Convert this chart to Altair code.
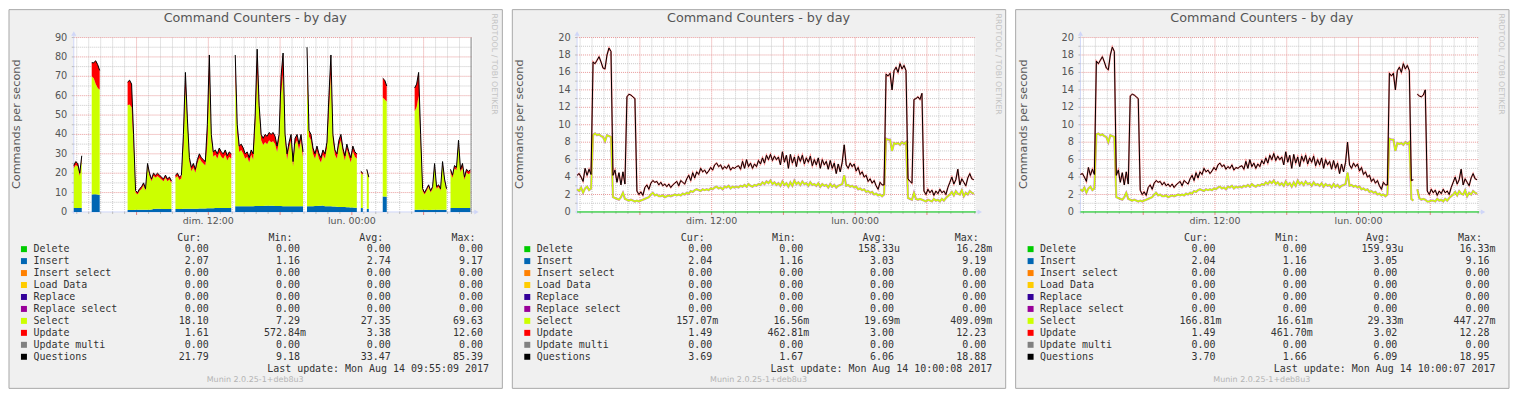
import altair as alt
import pandas as pd

N = None

# ---------------- time axis (RRD samples every 10 minutes; minutes since Sunday 00:00) -------------
T_START = 45
T_END = 2045
times = [T_START + 10 * k for k in range(200)]

x_major_ticks = [360, 720, 1080, 1440, 1800]
x_minor_ticks = [60 * h for h in range(1, 35) if h % 6 != 0]
x_label_times = [720, 1440]
x_label_text = ["dim. 12:00", "lun. 00:00"]

# ---------------- panel 1 (stacked areas, gaps = no data) ----------------
p1_questions = [
    24, 26, 25, 20, 29,
    N, N, N, N,
    77, 77, 78, 76, 73,
    N, N, N, N, N, N, N, N, N, N, N, N, N,
    67, 68, 66, 40, 11, 10, 12, 13, 15, 12, 25, 20, 17, 20, 19, 20, 19, 18, 17, 19, 17, 18, 16,
    N,
    19, 20, 18, 19, 40, 72, 48, 28, 23, 25, 22, 27, 30, 28, 27, 26, 45, 81, 40, 31, 32, 30, 33, 31, 30, 32, 29, 31, 30,
    N,
    81, 45, 34, 35, 33, 30, 31, 28, 32, 30, 50, 84, 55, 40, 38, 40, 39, 41, 40, 41, 39, 34, 40, 70, 82, 40, 30, 36, 40, 26,
    38, 40, 35, 40, 31,
    N,
    85, 42, 40, 33, 30, 34, 30, 28, 32, 30, 36, 60, 81, 40, 32, 30, 37, 40, 33, 29, 35, 31, 28, 34, 31, 30,
    N,
    21, 20,
    N,
    22, 18,
    N, N, N, N, N, N,
    69, 68, 65,
    N, N, N, N, N, N, N, N, N, N, N, N, N,
    64, 66, 72, 40, 12, 10, 12, 14, 11, 13, 25, 13, 14, 12, 26, 17, 12,
    N,
    22, 19, 24, 23, 37, 22, 25, 18, 22, 21, 21.8,
]
p1_insert = [
    2.1, 2.0, 2.0, 2.1, 2.0,
    N, N, N, N,
    9.0, 9.2, 9.1, 9.0, 8.8,
    N, N, N, N, N, N, N, N, N, N, N, N, N,
    1.0, 1.0, 1.0, 1.0, 1.1, 1.1, 1.1, 1.1, 1.1, 1.2, 1.2, 1.2, 1.3, 1.5, 1.6, 1.6, 1.6, 1.5, 1.5, 1.5, 1.5, 1.5, 1.5,
    N,
    1.5, 1.5, 1.5, 1.5, 1.6, 1.6, 1.6, 1.6, 1.7, 1.7, 1.7, 1.7, 1.8, 1.8, 1.8, 1.8, 1.9, 1.9, 1.9, 1.9,
    2.0, 2.0, 2.0, 2.0, 2.0, 2.0, 2.0, 2.0, 2.0,
    N,
    3.0, 3.0, 2.9, 2.9, 2.9, 3.0, 3.0, 3.0, 3.0, 3.0, 3.1, 3.1, 3.1, 3.1, 3.1, 3.2, 3.2, 3.2, 3.2, 3.2,
    3.1, 3.1, 3.1, 3.1, 3.0, 3.0, 3.0, 3.0, 3.0, 3.0, 3.0, 3.0, 3.0, 3.0, 3.0,
    N,
    3.0, 3.0, 3.0, 3.0, 3.1, 3.1, 3.2, 3.2, 3.3, 3.0, 3.0, 2.9, 2.9, 2.8, 2.8, 2.7, 2.6, 2.6, 2.5, 2.5,
    2.4, 2.4, 2.3, 2.3, 2.2, 2.2,
    N,
    2.0, 2.0,
    N,
    1.6, 1.6,
    N, N, N, N, N, N,
    8.0, 8.0, 7.8,
    N, N, N, N, N, N, N, N, N, N, N, N, N,
    1.1, 1.1, 1.1, 1.1, 1.1, 1.1, 1.1, 1.0, 1.0, 1.1, 1.1, 1.1, 1.1, 1.1, 1.1, 1.1, 1.1,
    N,
    2.0, 2.0, 2.1, 2.1, 2.1, 2.0, 2.0, 2.0, 2.1, 2.1, 2.07,
]
p1_select = [
    20.4, 22.2, 21.5, 16.4, 25.0,
    N, N, N, N,
    61.0, 59.8, 56.9, 55.0, 54.2,
    N, N, N, N, N, N, N, N, N, N, N, N, N,
    54.0, 54.4, 53.0, 33.0, 8.9, 7.9, 9.9, 10.7, 12.7, 9.8, 22.3, 17.3, 14.5, 17.2, 16.1, 17.0, 16.1, 15.2, 14.3, 16.2,
    14.3, 15.2, 13.3,
    N,
    16, 17, 15, 15.9, 32.4, 62.4, 43.9, 24.4, 19.3, 21.3, 18.5, 23.3, 26, 24.2, 23.2, 22.2, 33.1, 67.1, 35.6, 26.6,
    27.5, 25.5, 28.5, 26.5, 25.5, 27.5, 24.5, 26.5, 25.5,
    N,
    67, 38, 28.1, 29.1, 27.1, 24.5, 25.5, 22.5, 26.5, 24, 39.9, 68.9, 47.9, 33.9, 31.4, 32.8, 31.8, 33.8, 32.8, 33.3,
    31.9, 27.9, 33.9, 57.9, 68, 34, 24, 30, 34, 20.5, 32, 34, 29, 34, 25,
    N,
    69.4, 36, 34, 27, 24.4, 28.4, 24.3, 22.3, 26.2, 24.5, 30, 49.1, 68.1, 34.2, 26.7, 24.8, 31.4, 34.4, 28, 24,
    30.1, 26.1, 23.2, 29.2, 26.3, 25.3,
    N,
    18.2, 17.2,
    N,
    19.6, 15.6,
    N, N, N, N, N, N,
    51, 50, 49.2,
    N, N, N, N, N, N, N, N, N, N, N, N, N,
    50.9, 52.9, 58.9, 33.9, 9.9, 7.9, 9.9, 12, 9, 10.9, 22.4, 10.9, 11.9, 9.9, 23.4, 14.7, 9.9,
    N,
    18.5, 15.5, 20.4, 19.4, 32.9, 18.5, 21, 14.5, 18.4, 17.4, 18.1,
]
p1_update = [
    1.5, 1.8, 1.5, 1.5, 2.0,
    N, N, N, N,
    7, 8, 12, 12, 10,
    N, N, N, N, N, N, N, N, N, N, N, N, N,
    12, 12.6, 12, 6, 1, 1, 1, 1.2, 1.2, 1, 1.5, 1.5, 1.2, 1.3, 1.3, 1.4, 1.3, 1.3, 1.2, 1.3, 1.2, 1.3, 1.2,
    N,
    1.5, 1.5, 1.5, 1.6, 6, 8, 2.5, 2, 2, 2, 1.8, 2, 2.2, 2, 2, 2, 10, 12, 2.5, 2.5,
    2.5, 2.5, 2.5, 2.5, 2.5, 2.5, 2.5, 2.5, 2.5,
    N,
    11, 4, 3, 3, 3, 2.5, 2.5, 2.5, 2.5, 3, 7, 12, 4, 3, 3.5, 4, 4, 4, 4, 4.5,
    4, 3, 3, 9, 11, 3, 3, 3, 3, 2.5, 3, 3, 3, 3, 3,
    N,
    12.6, 3, 3, 3, 2.5, 2.5, 2.5, 2.5, 2.5, 2.5, 3, 8, 10, 3, 2.5, 2.5, 3, 3, 2.5, 2.5,
    2.5, 2.5, 2.5, 2.5, 2.5, 2.5,
    N,
    0.8, 0.8,
    N,
    0.8, 0.8,
    N, N, N, N, N, N,
    10, 10, 8,
    N, N, N, N, N, N, N, N, N, N, N, N, N,
    12, 12, 12, 5, 1, 1, 1, 1, 1, 1, 1.5, 1, 1, 1, 1.5, 1.2, 1,
    N,
    1.5, 1.5, 1.5, 1.5, 2, 1.5, 2, 1.5, 1.5, 1.5, 1.6,
]
p1_marker_time = [2038]

# ---------------- panel 2 (stacked lines) ----------------
p2_questions = [
    4.2, 4.4, 4.0, 3.5, 5.0, 4.2, 4.9, 4.3,
    17.2, 17.0, 17.4, 17.8, 17.2, 16.5, 16.4, 18.0, 18.8, 18.4,
    4.2, 4.8, 3.4, 4.5, 3.1, 4.6, 3.2,
    13.2, 13.5, 13.4, 13.2, 13.0,
    2.4, 2.0, 2.3, 1.9, 2.8, 3.1, 2.6, 3.3, 3.6, 3.4, 3.5, 3.1, 3.4, 3.0, 3.2, 2.9, 3.2, 2.8, 3.1, 3.3,
    3.5, 3.0, 3.6, 3.4, 3.2, 3.8, 4.2, 3.6, 4.5, 3.9, 4.6, 4.3, 5.0, 4.6, 4.8, 4.4,
    4.7, 5.1, 4.8, 5.4, 5.6, 5.2, 5.4, 4.9, 5.2, 5.0, 5.4, 4.8, 5.1, 5.0, 5.2,
    5.3, 4.9, 5.8, 5.0, 6.0, 5.2, 5.6, 5.0, 5.5, 5.2, 5.9, 5.5, 6.2, 5.6, 6.5, 6.0, 6.6, 5.9, 6.4, 6.0,
    6.3, 5.4, 6.9, 5.7, 6.5, 5.0, 6.6, 5.6, 6.3, 5.2, 6.4, 5.8, 6.5, 5.5, 6.2, 5.7, 6.4, 5.3, 6.0, 5.4,
    6.2, 5.0, 6.0, 5.4, 5.8, 4.9, 5.9, 5.0, 5.6, 4.4, 5.5, 4.6, 5.7, 7.7, 5.4,
    5.0, 5.6, 5.2, 5.5, 4.7, 5.1, 4.3, 4.6, 4.0, 4.2, 3.5, 3.8, 3.3, 3.6, 3.0, 2.6, 3.4, 3.1, 3.1,
    15.8, 15.6, 15.9, 14.0, 16.2, 16.6, 16.0, 17.0, 16.4, 16.8, 16.2,
    3.8, 3.5, 3.3,
    12.9, 13.0, 13.2, 12.9, 13.6,
    2.4, 2.0, 2.6, 2.2, 2.5, 1.9, 2.4, 2.1, 2.6, 2.2, 2.4, 2.0, 2.8,
    3.4, 4.0, 3.2, 3.7, 4.9, 3.1, 3.8, 3.4, 3.0, 3.9, 4.4, 3.8, 3.7,
]
p2_insert = [
    2.6, 2.4, 2.8, 2.2, 2.7, 2.9, 2.5, 2.7,
    8.8, 9.0, 8.8, 8.9, 8.7, 8.6, 8.1, 8.8, 8.7, 8.6,
    1.7, 1.6, 1.5, 1.4, 1.7, 2.2, 1.5,
    1.4, 1.3, 1.4, 1.3, 1.2,
    1.3, 1.2, 1.3, 1.4, 1.5, 1.6, 1.7, 2.0, 2.2, 1.9, 2.0, 1.8, 1.8, 1.9, 1.7, 1.8, 1.9, 1.8, 1.9, 2.0,
    1.9, 2.0, 1.9, 2.1, 2.0, 2.2, 2.1, 2.4, 2.3, 2.5, 2.6, 2.5, 2.4, 2.6, 2.5, 2.6,
    2.5, 2.7, 2.6, 2.8, 2.9, 2.7, 2.8, 2.6, 2.9, 2.8, 3.0, 2.7, 2.9, 2.8, 2.9,
    2.8, 3.0, 2.9, 3.1, 2.9, 3.2, 3.0, 2.9, 3.1, 3.0, 3.2, 3.1, 3.4, 3.2, 3.5, 3.3, 3.6, 3.2, 3.4, 3.1,
    3.3, 3.0, 3.5, 3.1, 3.3, 2.9, 3.4, 3.0, 3.6, 3.2, 3.4, 3.1, 3.5, 3.2, 3.3, 3.0, 3.4, 3.1, 3.2, 3.0,
    3.3, 2.9, 3.2, 3.0, 3.1, 2.8, 3.2, 2.9, 3.1, 2.8, 3.0, 3.1, 3.2, 4.2, 3.0,
    3.1, 2.9, 3.0, 2.8, 2.9, 2.6, 2.7, 2.5, 2.6, 2.3, 2.4, 2.2, 2.3, 2.0, 2.1, 1.9, 2.0, 1.8, 2.0,
    8.4, 8.3, 8.3, 7.0, 7.9, 7.8, 7.9, 7.7, 8.0, 7.8, 8.0,
    1.6, 1.5, 1.4,
    2.2, 1.5, 1.4, 1.5, 1.4,
    1.3, 1.2, 1.4, 1.3, 1.2, 1.5, 1.3, 1.4, 1.2, 1.5, 1.3, 1.6, 1.8,
    2.0, 2.3, 1.9, 2.4, 2.1, 2.0, 2.5, 1.8, 2.2, 2.0, 2.4, 2.2, 2.1,
]

# ---------------- panel 3 (stacked lines, one missing sample) ----------------
p3_questions = [
    4.3, 4.4, 4.0, 3.5, 5.1, 4.2, 4.9, 4.3,
    17.3, 17.0, 17.4, 17.8, 17.2, 16.5, 16.3, 18.0, 18.9, 18.4,
    4.2, 4.8, 3.4, 4.5, 3.1, 4.6, 3.2,
    13.3, 13.5, 13.4, 13.2, 13.0,
    2.5, 2.0, 2.3, 1.9, 2.8, 3.1, 2.6, 3.3, 3.6, 3.4, 3.5, 3.1, 3.4, 3.0, 3.2, 2.9, 3.2, 2.8, 3.1, 3.3,
    3.5, 3.0, 3.6, 3.4, 3.2, 3.8, 4.2, 3.6, 4.5, 3.9, 4.6, 4.3, 5.0, 4.6, 4.8, 4.4,
    4.7, 5.1, 4.8, 5.4, 5.6, 5.2, 5.4, 4.9, 5.2, 5.0, 5.4, 4.8, 5.1, 5.0, 5.2,
    5.3, 4.9, 5.8, 5.0, 6.0, 5.2, 5.6, 5.0, 5.5, 5.2, 5.9, 5.5, 6.2, 5.6, 6.5, 6.0, 6.7, 5.9, 6.4, 6.0,
    6.3, 5.4, 6.9, 5.7, 6.5, 5.0, 6.6, 5.6, 6.3, 5.2, 6.4, 5.8, 6.5, 5.5, 6.2, 5.7, 6.4, 5.3, 6.0, 5.4,
    6.2, 5.0, 6.0, 5.4, 5.8, 4.9, 5.9, 5.0, 5.6, 4.4, 5.5, 4.6, 5.7, 8.0, 5.4,
    5.0, 5.6, 5.2, 5.5, 4.7, 5.1, 4.3, 4.6, 4.0, 4.2, 3.5, 3.8, 3.3, 3.6, 3.0, 2.6, 3.4, 3.1, 3.1,
    15.9, 15.6, 15.9, 14.0, 16.2, 16.6, 16.0, 17.0, 16.4, 16.8, 16.2,
    3.6, 3.7, N,
    13.5, 13.3, 13.2, 13.4, 14.0,
    2.4, 2.0, 2.6, 2.2, 2.5, 1.9, 2.4, 2.1, 2.6, 2.2, 2.4, 2.0, 2.8,
    3.4, 4.0, 3.2, 3.7, 4.9, 3.1, 3.8, 3.4, 3.0, 3.9, 4.4, 3.8, 3.7,
]
p3_insert = [
    2.6, 2.4, 2.8, 2.2, 2.7, 2.9, 2.5, 2.7,
    8.9, 9.0, 8.8, 8.9, 8.7, 8.6, 8.0, 8.8, 8.7, 8.6,
    1.7, 1.6, 1.5, 1.4, 1.7, 2.2, 1.5,
    1.4, 1.3, 1.4, 1.3, 1.2,
    1.3, 1.2, 1.3, 1.4, 1.5, 1.6, 1.7, 2.0, 2.2, 1.9, 2.0, 1.8, 1.8, 1.9, 1.7, 1.8, 1.9, 1.8, 1.9, 2.0,
    1.9, 2.0, 1.9, 2.1, 2.0, 2.2, 2.1, 2.4, 2.3, 2.5, 2.6, 2.5, 2.4, 2.6, 2.5, 2.6,
    2.5, 2.7, 2.6, 2.8, 2.9, 2.7, 2.8, 2.6, 2.9, 2.8, 3.0, 2.7, 2.9, 2.8, 2.9,
    2.8, 3.0, 2.9, 3.1, 2.9, 3.2, 3.0, 2.9, 3.1, 3.0, 3.2, 3.1, 3.4, 3.2, 3.5, 3.3, 3.6, 3.2, 3.4, 3.1,
    3.3, 3.0, 3.5, 3.1, 3.3, 2.9, 3.4, 3.0, 3.6, 3.2, 3.4, 3.1, 3.5, 3.2, 3.3, 3.0, 3.4, 3.1, 3.2, 3.0,
    3.3, 2.9, 3.2, 3.0, 3.1, 2.8, 3.2, 2.9, 3.1, 2.8, 3.0, 3.1, 3.2, 4.5, 3.0,
    3.1, 2.9, 3.0, 2.8, 2.9, 2.6, 2.7, 2.5, 2.6, 2.3, 2.4, 2.2, 2.3, 2.0, 2.1, 1.9, 2.0, 1.8, 2.0,
    8.4, 8.3, 8.3, 7.0, 7.9, 7.8, 7.9, 7.7, 8.0, 7.8, 8.0,
    1.5, 1.3, N,
    2.6, 1.6, 1.4, 1.5, 1.4,
    1.2, 1.2, 1.3, 1.3, 1.2, 1.5, 1.3, 1.4, 1.2, 1.5, 1.3, 1.6, 1.8,
    2.0, 2.3, 1.9, 2.4, 2.1, 2.0, 2.5, 1.8, 2.2, 2.0, 2.4, 2.2, 2.1,
]

for _name, _arr in [("p1_questions", p1_questions), ("p1_insert", p1_insert), ("p1_select", p1_select),
                    ("p1_update", p1_update), ("p2_questions", p2_questions), ("p2_insert", p2_insert),
                    ("p3_questions", p3_questions), ("p3_insert", p3_insert)]:
    assert len(_arr) == 200, (_name, len(_arr))

# ---------------- legend table ----------------
legend_names = ["Delete", "Insert", "Insert select", "Load Data", "Replace", "Replace select",
                "Select", "Update", "Update multi", "Questions"]
legend_colors = ["#00CC00", "#0066B3", "#FF8000", "#FFCC00", "#330099", "#990099",
                 "#CCFF00", "#FF0000", "#808080", "#000000"]
legend_headers = ["Cur:", "Min:", "Avg:", "Max:"]
Z = ["0.00", "0.00", "0.00", "0.00"]
p1_stats = [Z, ["2.07", "1.16", "2.74", "9.17"], Z, Z, Z, Z,
            ["18.10", "7.29", "27.35", "69.63"], ["1.61", "572.84m", "3.38", "12.60"], Z,
            ["21.79", "9.18", "33.47", "85.39"]]
p2_stats = [["0.00", "0.00", "158.33u", "16.28m"], ["2.04", "1.16", "3.03", "9.19"], Z, Z, Z, Z,
            ["157.07m", "16.56m", "19.69m", "409.09m"], ["1.49", "462.81m", "3.00", "12.23"], Z,
            ["3.69", "1.67", "6.06", "18.88"]]
p3_stats = [["0.00", "0.00", "159.93u", "16.33m"], ["2.04", "1.16", "3.05", "9.16"], Z, Z, Z, Z,
            ["166.81m", "16.61m", "29.33m", "447.27m"], ["1.49", "461.70m", "3.02", "12.28"], Z,
            ["3.70", "1.66", "6.09", "18.95"]]
p1_last = "Mon Aug 14 09:55:09 2017"
p2_last = "Mon Aug 14 10:00:08 2017"
p3_last = "Mon Aug 14 10:00:07 2017"

TITLE = "Command Counters - by day"
Y_TITLE = "Commands per second"
WATERMARK = "RRDTOOL / TOBI OETIKER"
FOOTER = "Munin 2.0.25-1+deb8u3"

# ---------------- styling / layout (pixels relative to the plot area) ----------------
PLOT_W, PLOT_H = 400, 175
BOX_L, BOX_R, BOX_T, BOX_B = -65, 430, -28, 352
BACK = "#F0F0F0"
FRAME = "#A8A8A8"
AXIS = "#CFD6F8"
GRID_MINOR = "#C8C8C8"
GRID_MAJOR = "#E89A9A"
FONT = "DejaVu Sans"
MONO = "DejaVu Sans Mono"
TXT = "#555555"
LEG_TXT = "#333333"
COL_RIGHT = [135.5, 227.0, 318.0, 410.5]
ROW_Y0, ROW_DY, HEADER_Y = 212.3, 12.0, 201.3
CHAR_W = 6.02

one = pd.DataFrame({"d": [0]})


def xs(field):
    return alt.X(field, type="quantitative",
                 scale=alt.Scale(domain=[T_START, T_END], nice=False, zero=False), axis=None)


def ys(field, ymax):
    return alt.Y(field, type="quantitative",
                 scale=alt.Scale(domain=[0, ymax], nice=False, zero=False), axis=None)


def seg_ids(values):
    ids, seg, gap = [], 0, True
    for v in values:
        if v is None:
            gap = True
            ids.append(None)
        else:
            if gap:
                seg += 1
            gap = False
            ids.append(seg)
    return ids


def line_df(values):
    segs = seg_ids(values)
    return pd.DataFrame([{"t": t, "v": v, "seg": s} for t, v, s in zip(times, values, segs) if v is not None])


def panel1_layers(ymax):
    segs = seg_ids(p1_questions)
    rows = []
    for k, t in enumerate(times):
        if p1_questions[k] is None:
            continue
        i, s, u = p1_insert[k], p1_select[k], p1_update[k]
        rows.append({"t": t, "g": f"i{segs[k]}", "col": "#0066B3", "lo": 0.0, "hi": i})
        rows.append({"t": t, "g": f"s{segs[k]}", "col": "#CCFF00", "lo": i, "hi": i + s})
        rows.append({"t": t, "g": f"u{segs[k]}", "col": "#FF0000", "lo": i + s, "hi": i + s + u})
    area_df = pd.DataFrame(rows)
    areas = alt.Chart(area_df).mark_area(opacity=1, strokeWidth=0).encode(
        x=xs("t"), y=ys("hi", ymax), y2=alt.Y2("lo"),
        color=alt.Color("col:N", scale=None), detail="g:N")
    q = alt.Chart(line_df(p1_questions)).mark_line(color="#000000", strokeWidth=1).encode(
        x=xs("t"), y=ys("v", ymax), detail="seg:N")
    marker = alt.Chart(pd.DataFrame({"t": p1_marker_time})).mark_rule(color="#8C8C8C", strokeWidth=1).encode(
        x=xs("t"), y=alt.value(0), y2=alt.value(PLOT_H))
    return [areas, q, marker]


def lines_layers(insert_vals, question_vals):
    def f(ymax):
        delete_line = alt.Chart(one).mark_rule(color="#00CC00", strokeWidth=1).encode(
            y=alt.value(PLOT_H), x=alt.value(0), x2=alt.value(PLOT_W))
        ins = line_df(insert_vals)
        qs = line_df(question_vals)
        purple = alt.Chart(ins).mark_line(color="#990099", strokeWidth=2.2, opacity=0.5).encode(
            x=xs("t"), y=ys("v", ymax), detail="seg:N")
        yellow = alt.Chart(ins).mark_line(color="#CCFF00", strokeWidth=1.4).encode(
            x=xs("t"), y=ys("v", ymax), detail="seg:N")
        red = alt.Chart(qs).mark_line(color="#FF0000", strokeWidth=1.7, opacity=0.45).encode(
            x=xs("t"), y=ys("v", ymax), detail="seg:N")
        black = alt.Chart(qs).mark_line(color="#000000", strokeWidth=1.0).encode(
            x=xs("t"), y=ys("v", ymax), detail="seg:N")
        return [delete_line, purple, yellow, red, black]
    return f


def legend_layers(stats, last_update):
    names = pd.DataFrame({"px": -40.5, "py": [ROW_Y0 + i * ROW_DY for i in range(len(legend_names))],
                          "text": legend_names})
    squares = pd.DataFrame({"x1": -53.0, "x2": -47.0,
                            "y1": [ROW_Y0 - 3.0 + i * ROW_DY for i in range(len(legend_names))],
                            "y2": [ROW_Y0 + 3.0 + i * ROW_DY for i in range(len(legend_names))],
                            "col": legend_colors})
    vals = []
    for i, row in enumerate(stats):
        for j, s in enumerate(row):
            shift = CHAR_W if s[-1].isalpha() else 0.0
            vals.append({"px": COL_RIGHT[j] + shift, "py": ROW_Y0 + i * ROW_DY, "text": s})
    for j, h in enumerate(legend_headers):
        vals.append({"px": COL_RIGHT[j] - 7.5, "py": HEADER_Y, "text": h})
    vals.append({"px": 416.5, "py": 333.0, "text": "Last update: " + last_update})
    vals = pd.DataFrame(vals)
    px = alt.X("px:Q", scale=None, axis=None)
    py = alt.Y("py:Q", scale=None, axis=None)
    return [
        alt.Chart(squares).mark_rect().encode(
            x=alt.X("x1:Q", scale=None, axis=None), x2="x2:Q",
            y=alt.Y("y1:Q", scale=None, axis=None), y2="y2:Q",
            color=alt.Color("col:N", scale=None)),
        alt.Chart(names).mark_text(font=MONO, fontSize=10, color=LEG_TXT, align="left", baseline="middle").encode(
            x=px, y=py, text="text:N"),
        alt.Chart(vals).mark_text(font=MONO, fontSize=10, color=LEG_TXT, align="right", baseline="middle").encode(
            x=px, y=py, text="text:N"),
    ]


def build_panel(ymax, y_labels, y_major, y_minor, data_layers, stats, last_update):
    L = []
    L.append(alt.Chart(one).mark_rect(fill=BACK, stroke=FRAME, strokeWidth=1).encode(
        x=alt.value(BOX_L), x2=alt.value(BOX_R), y=alt.value(BOX_T), y2=alt.value(BOX_B)))
    L.append(alt.Chart(one).mark_rect(fill="#FFFFFF").encode(
        x=alt.value(0), x2=alt.value(PLOT_W), y=alt.value(0), y2=alt.value(PLOT_H)))
    L.append(alt.Chart(pd.DataFrame({"t": x_minor_ticks})).mark_rule(color=GRID_MINOR, strokeDash=[1, 1]).encode(
        x=xs("t"), y=alt.value(0), y2=alt.value(PLOT_H)))
    L.append(alt.Chart(pd.DataFrame({"v": y_minor})).mark_rule(color=GRID_MINOR, strokeDash=[1, 1]).encode(
        y=ys("v", ymax), x=alt.value(0), x2=alt.value(PLOT_W)))
    L.append(alt.Chart(pd.DataFrame({"t": x_major_ticks})).mark_rule(color=GRID_MAJOR, strokeDash=[1, 1]).encode(
        x=xs("t"), y=alt.value(0), y2=alt.value(PLOT_H)))
    L.append(alt.Chart(pd.DataFrame({"v": y_major})).mark_rule(color=GRID_MAJOR, strokeDash=[1, 1]).encode(
        y=ys("v", ymax), x=alt.value(0), x2=alt.value(PLOT_W)))
    # axes, ticks and arrows
    L.append(alt.Chart(one).mark_rule(color=AXIS).encode(x=alt.value(0), y=alt.value(-2), y2=alt.value(PLOT_H + 2)))
    L.append(alt.Chart(one).mark_rule(color=AXIS).encode(y=alt.value(PLOT_H), x=alt.value(-2), x2=alt.value(PLOT_W + 2)))
    L.append(alt.Chart(pd.DataFrame({"t": x_minor_ticks})).mark_rule(color="#BBBBBB").encode(
        x=xs("t"), y=alt.value(PLOT_H), y2=alt.value(PLOT_H + 2)))
    L.append(alt.Chart(pd.DataFrame({"t": x_major_ticks})).mark_rule(color="#E08080").encode(
        x=xs("t"), y=alt.value(PLOT_H), y2=alt.value(PLOT_H + 3)))
    L.append(alt.Chart(pd.DataFrame({"v": y_minor + y_major})).mark_rule(color="#BBBBBB").encode(
        y=ys("v", ymax), x=alt.value(-2), x2=alt.value(0)))
    L.append(alt.Chart(one).mark_point(shape="triangle-up", filled=True, size=26, color=AXIS, opacity=1).encode(
        x=alt.value(0), y=alt.value(-4)))
    L.append(alt.Chart(one).mark_point(shape="triangle-right", filled=True, size=26, color=AXIS, opacity=1).encode(
        x=alt.value(PLOT_W + 4), y=alt.value(PLOT_H)))
    # data
    L += data_layers(ymax)
    # axis labels
    L.append(alt.Chart(pd.DataFrame({"v": y_labels, "lab": [str(v) for v in y_labels]})).mark_text(
        font=FONT, fontSize=9.8, color=TXT, align="right", baseline="middle").encode(
        y=ys("v", ymax), x=alt.value(-6.5), text="lab:N"))
    L.append(alt.Chart(pd.DataFrame({"t": x_label_times, "lab": x_label_text})).mark_text(
        font=FONT, fontSize=9.5, color=TXT, align="center", baseline="middle").encode(
        x=xs("t"), y=alt.value(184.5), text="lab:N"))
    # titles / watermark
    L.append(alt.Chart(one).mark_text(text=TITLE, font=FONT, fontSize=12.8, color=TXT,
                                      align="center", baseline="middle").encode(
        x=alt.value(182), y=alt.value(-20)))
    L.append(alt.Chart(one).mark_text(text=Y_TITLE, font=FONT, fontSize=11.3, color=TXT, angle=270,
                                      align="center", baseline="middle").encode(
        x=alt.value(-57), y=alt.value(87)))
    L.append(alt.Chart(one).mark_text(text=WATERMARK, font=FONT, fontSize=7.9, color="#C4C4C4", angle=90,
                                      align="left", baseline="middle").encode(
        x=alt.value(422), y=alt.value(-24)))
    L.append(alt.Chart(one).mark_text(text=FOOTER, font=FONT, fontSize=8, color="#B4B4B4",
                                      align="center", baseline="middle").encode(
        x=alt.value(182), y=alt.value(344)))
    L += legend_layers(stats, last_update)
    return alt.layer(*L).properties(width=PLOT_W, height=PLOT_H)


p1_y_labels = [0, 10, 20, 30, 40, 50, 60, 70, 80, 90]
p1_y_major = [10, 20, 30, 40, 50, 60, 70, 80, 90]
p1_y_minor = [5, 15, 25, 35, 45, 55, 65, 75, 85]
p23_y_labels = [0, 2, 4, 6, 8, 10, 12, 14, 16, 18, 20]
p23_y_major = [2, 4, 6, 8, 10, 12, 14, 16, 18, 20]
p23_y_minor = [1, 3, 5, 7, 9, 11, 13, 15, 17, 19]

panel1 = build_panel(90, p1_y_labels, p1_y_major, p1_y_minor, panel1_layers, p1_stats, p1_last)
panel2 = build_panel(20, p23_y_labels, p23_y_major, p23_y_minor,
                     lines_layers(p2_insert, p2_questions), p2_stats, p2_last)
panel3 = build_panel(20, p23_y_labels, p23_y_major, p23_y_minor,
                     lines_layers(p3_insert, p3_questions), p3_stats, p3_last)

chart = alt.hconcat(panel1, panel2, panel3, spacing=8).properties(
    padding=0, background="#FFFFFF"
).configure_view(strokeWidth=0)

chart.save("out.html", embed_options={"renderer": "svg", "actions": False})
